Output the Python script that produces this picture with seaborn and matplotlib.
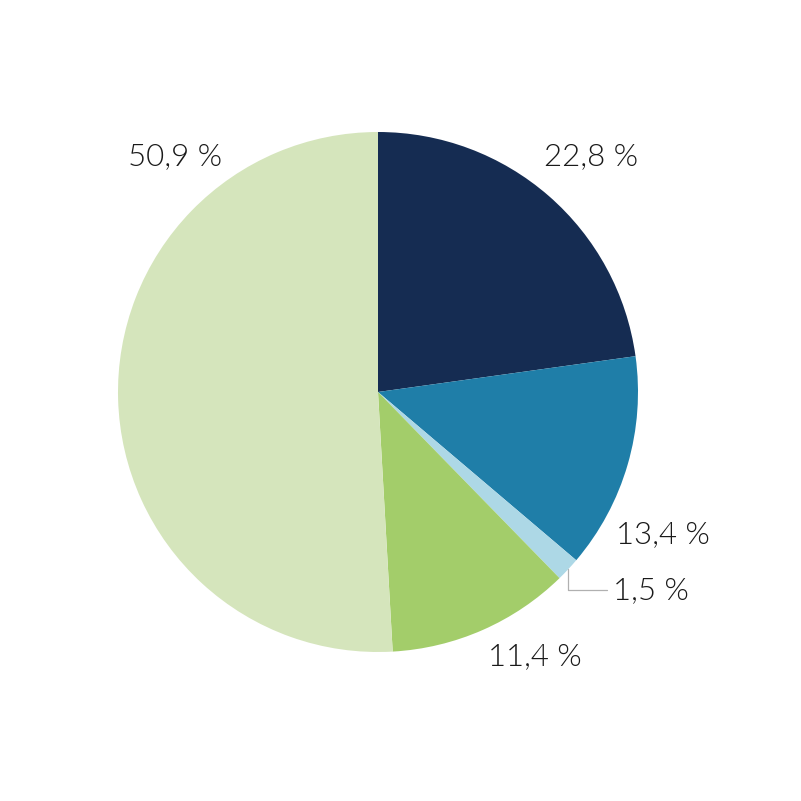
import numpy as np
import matplotlib
matplotlib.use('Agg')
import matplotlib.pyplot as plt
import seaborn as sns

# Anteile in Prozent, im Uhrzeigersinn ab 12 Uhr
labels = ['22,8 %', '13,4 %', '1,5 %', '11,4 %', '50,9 %']
values = [22.8, 13.4, 1.5, 11.4, 50.9]
colors = ['#152c52', '#1f7ea8', '#add8e6', '#a3cd6a', '#d5e5bc']

# Positionen der Beschriftungen (Radius = 1)
label_pos = [(0.819, 0.904), (1.096, -0.55), (1.05, -0.762), (0.604, -1.019), (-0.781, 0.904)]

sns.set_style('white')
plt.rcParams['font.family'] = ['Lato', 'DejaVu Sans']

fig = plt.figure(figsize=(8.01, 8.01), dpi=100)
ax = fig.add_axes([0, 0, 1, 1])

wedges, _ = ax.pie(values, colors=colors, startangle=90, counterclock=False,
                   radius=1, wedgeprops={'linewidth': 0})

for lab, (x, y) in zip(labels, label_pos):
    ax.text(x, y, lab, ha='center', va='center', fontsize=22.5,
            fontweight=300, color='#1a1a1a')

# Führungslinie für den kleinen Anteil
w = wedges[2]
mid = np.deg2rad((w.theta1 + w.theta2) / 2)
x0, y0 = np.cos(mid), np.sin(mid)
ax.plot([x0, x0, 0.881], [y0, -0.762, -0.762], color='#b0b0b0', lw=0.9)

ax.set_xlim(-378 / 260, 423 / 260)
ax.set_ylim(-409 / 260, 392 / 260)
ax.set_aspect('equal')
ax.axis('off')

fig.savefig('out.png', dpi=100)
